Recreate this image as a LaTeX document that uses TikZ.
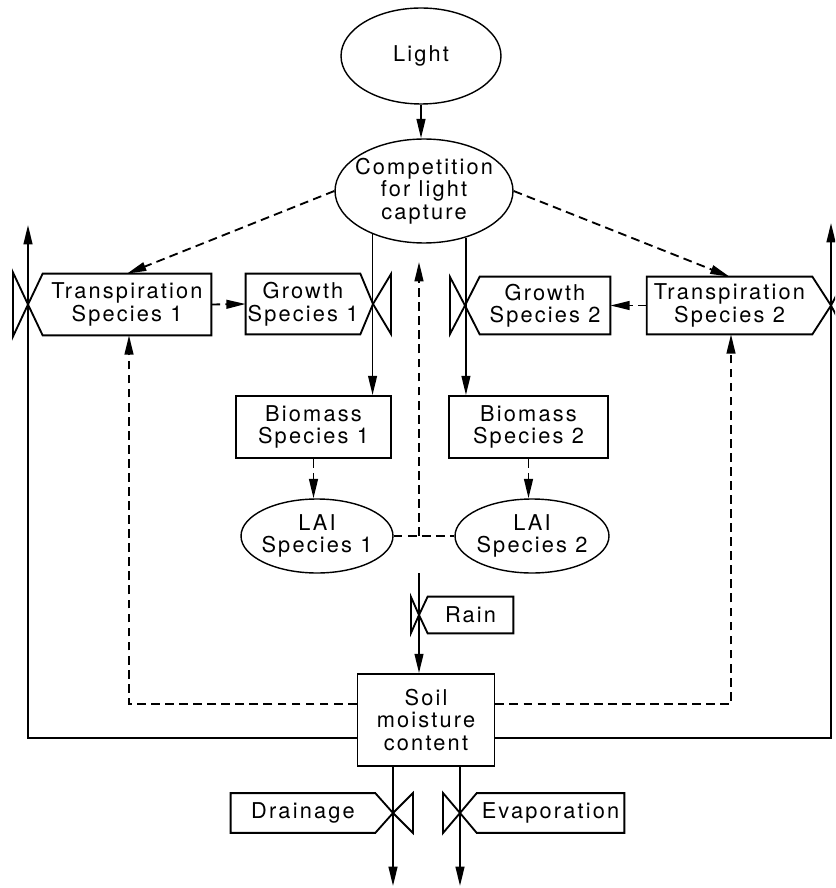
\documentclass[tikz,border=0pt]{standalone}
\usepackage{fontspec}
\setmainfont{TeX Gyre Heros}[LetterSpace=10]
\usetikzlibrary{arrows.meta,shapes.geometric}
\newcommand\zwb[1]{\makebox[0pt]{#1}}
\begin{document}
\begin{tikzpicture}[x=0.02cm,y=-0.02cm,
  font=\fontsize{12.4}{12.8}\selectfont,
  arr/.style={-{Triangle[length=11pt,width=5pt]}},
  ln/.style={line width=1.05pt},
  dsh/.style={dash pattern=on 5pt off 3pt},
  ell/.style={ellipse,draw,line width=0.8pt,inner sep=0pt,align=center},
  sbox/.style={rectangle,draw,line width=1.05pt,inner sep=0pt,align=center},
  body/.style={rectangle,inner sep=0pt,align=center},
  valve/.style={line width=1.05pt,line join=miter}]
\useasboundingbox (0,0) rectangle (835,888);
\clip (0,0) rectangle (835,888);

% main nodes
\node[ell,minimum width=3.2cm,minimum height=1.92cm] (light) at (421,56) {\zwb{Light}};
\node[ell,minimum width=3.56cm,minimum height=2.08cm] (comp) at (424,191) {\zwb{Competition}\\\zwb{for light}\\\zwb{capture}};
\node[sbox,minimum width=3.1cm,minimum height=1.24cm] (bio1) at (313.5,427) {Biomass\\Species 1};
\node[sbox,minimum width=3.18cm,minimum height=1.24cm] (bio2) at (528.5,427) {Biomass\\Species 2};
\node[ell,minimum width=3.04cm,minimum height=1.48cm] (lai1) at (317,536) {\zwb{LAI}\\\zwb{Species 1}};
\node[ell,minimum width=3.08cm,minimum height=1.48cm] (lai2) at (532,536) {\zwb{LAI}\\\zwb{Species 2}};
\node[sbox,minimum width=2.74cm,minimum height=1.84cm] (soil) at (426,720) {Soil\\moisture\\content};

% valve boxes
\node[body,minimum width=3.36cm,minimum height=1.22cm] (t1) at (127,304.5) {Transpiration\\Species 1};
\coordinate (v1) at (28,304.5);
\draw[valve] (t1.north east) -- (t1.south east) -- (t1.south west) -- (v1) -- (t1.north west) -- cycle;
\draw[valve] (v1) -- ++(-15,-32) -- ++(0,64) -- cycle;

\node[body,minimum width=2.28cm,minimum height=1.2cm] (g1) at (303,304) {Growth\\Species 1};
\coordinate (v2) at (373,304);
\draw[valve] (g1.north west) -- (g1.north east) -- (v2) -- (g1.south east) -- (g1.south west) -- cycle;
\draw[valve] (v2) -- ++(18,-30) -- ++(0,60) -- cycle;

\node[body,minimum width=2.6cm,minimum height=1.14cm] (g2) at (545,305.5) {Growth\\Species 2};
\coordinate (v3) at (465,305.5);
\draw[valve] (g2.north east) -- (g2.south east) -- (g2.south west) -- (v3) -- (g2.north west) -- cycle;
\draw[valve] (v3) -- ++(-15,-28.5) -- ++(0,57) -- cycle;

\node[body,minimum width=3.3cm,minimum height=1.14cm] (t2) at (729.5,305.5) {Transpiration\\Species 2};
\coordinate (v4) at (831,305.5);
\draw[valve] (t2.north west) -- (t2.north east) -- (v4) -- (t2.south east) -- (t2.south west) -- cycle;
\draw[valve] (v4) -- ++(15,-28.5) -- ++(0,57) -- cycle;

\node[body,minimum width=1.7cm,minimum height=0.72cm] (rain) at (470.5,615) {Rain};
\coordinate (vr) at (419,615);
\draw[valve] (rain.north east) -- (rain.south east) -- (rain.south west) -- (vr) -- (rain.north west) -- cycle;
\draw[valve] (vr) -- ++(-8,-18) -- ++(0,36) -- cycle;

\node[body,minimum width=2.88cm,minimum height=0.78cm] (drain) at (303,813) {Drainage};
\coordinate (vd) at (393,813);
\draw[valve] (drain.north west) -- (drain.north east) -- (vd) -- (drain.south east) -- (drain.south west) -- cycle;
\draw[valve] (vd) -- ++(20,-20) -- ++(0,40) -- cycle;

\node[body,minimum width=2.94cm,minimum height=0.78cm] (evap) at (550.5,813) {Evaporation};
\coordinate (ve) at (460,813);
\draw[valve] (evap.north east) -- (evap.south east) -- (evap.south west) -- (ve) -- (evap.north west) -- cycle;
\draw[valve] (ve) -- ++(-17,-20) -- ++(0,40) -- cycle;

% connectors
\draw[ln,arr] (light.south) -- (light.south |- comp.north);
\draw[ln,dsh,arr] (comp.west) -- (t1.north);
\draw[ln,dsh,arr] (comp.east) -- (t2.north);
\draw[ln,arr] (comp.220) -- (comp.220 |- bio1.north);
\draw[ln,arr] (comp.-48) -- (comp.-48 |- bio2.north);
\draw[ln,dsh,arr] (t1.east) -- (g1.west);
\draw[ln,dsh,arr] (t2.west) -- (g2.east);
\draw[ln,dsh,arr] (bio1.south) -- (bio1.south |- lai1.north);
\draw[ln,dsh,arr] (bio2.south) -- (bio2.south |- lai2.north);
\draw[ln,dsh] (lai1.east) -- (lai2.west);
\coordinate (up) at (419,262);
\draw[ln,dsh,arr] (up |- lai1.east) -- (up);

\coordinate (rsrc) at (419,573);
\draw[ln,arr] (rsrc) -- (rsrc |- soil.north);

\coordinate (lb) at (28,738); \coordinate (lt) at (28,225);
\draw[ln,arr] (soil.west |- lb) -- (lb) -- (lt);
\coordinate (rb) at (831,738); \coordinate (rt) at (831,223);
\draw[ln,arr] (soil.east |- rb) -- (rb) -- (rt);
\coordinate (dl) at (129,704);
\draw[ln,dsh,arr] (soil.west |- dl) -- (dl) -- (dl |- t1.south);
\coordinate (dr) at (731,704);
\draw[ln,dsh,arr] (soil.east |- dr) -- (dr) -- (dr |- t2.south);

\coordinate (dend) at (393,886);
\draw[ln,arr] (dend |- soil.south) -- (dend);
\coordinate (eend) at (460,886);
\draw[ln,arr] (eend |- soil.south) -- (eend);
\end{tikzpicture}
\end{document}
